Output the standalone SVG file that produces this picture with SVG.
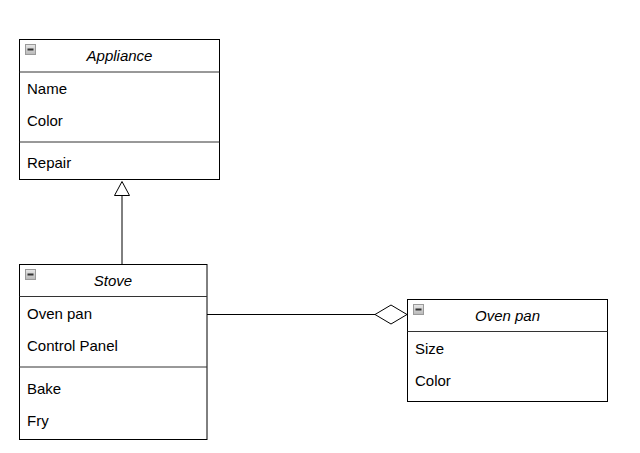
<svg xmlns="http://www.w3.org/2000/svg" width="640" height="453" viewBox="0 0 640 453">
  <style>
    .box { fill: #ffffff; stroke: #000000; stroke-width: 1; }
    .sep { stroke: #333333; stroke-width: 1; fill: none; }
    .title { font-family: "Liberation Sans", Arial, sans-serif; font-size: 15px; font-style: italic; fill: #000000; text-anchor: middle; }
    .row { font-family: "Liberation Sans", Arial, sans-serif; font-size: 15px; fill: #000000; }
    .edge { stroke: #000000; stroke-width: 1; fill: none; }
    .head { stroke: #000000; stroke-width: 1; fill: #ffffff; }
  </style>
  <defs>
    <linearGradient id="iconFill" x1="0" y1="0" x2="0" y2="1">
      <stop offset="0" stop-color="#e8e8e8"/>
      <stop offset="1" stop-color="#b8b8b8"/>
    </linearGradient>
    <g id="collapse">
      <rect x="0.5" y="0.5" width="10" height="10" fill="url(#iconFill)" stroke="#9a9a9a"/>
      <rect x="2.5" y="4.5" width="6" height="2" fill="#333333"/>
    </g>
  </defs>
  <rect width="640" height="453" fill="#ffffff"/>

  <g id="connectors">
    <!-- generalization: Stove -> Appliance -->
    <line class="edge" x1="122" y1="264.5" x2="122" y2="195"/>
    <polygon class="head" points="122,181.5 114.5,195.5 129.5,195.5"/>
    <!-- aggregation: Stove -> Oven pan -->
    <line class="edge" x1="207" y1="314.5" x2="375" y2="314.5"/>
    <polygon class="head" points="375,314.5 391,305 407,314.5 391,324"/>
  </g>

  <g id="appliance">
    <rect class="box" x="19.5" y="39.5" width="200" height="140"/>
    <line class="sep" x1="19.5" y1="72" x2="219.5" y2="72"/>
    <line class="sep" x1="19.5" y1="142" x2="219.5" y2="142"/>
    <use href="#collapse" x="25" y="44"/>
    <text class="title" x="119.5" y="61">Appliance</text>
    <text class="row" x="27" y="94">Name</text>
    <text class="row" x="27" y="126">Color</text>
    <text class="row" x="27" y="168">Repair</text>
  </g>

  <g id="stove">
    <rect class="box" x="19.5" y="264.5" width="187.5" height="175"/>
    <line class="sep" x1="19.5" y1="296.5" x2="207" y2="296.5"/>
    <line class="sep" x1="19.5" y1="367" x2="207" y2="367"/>
    <use href="#collapse" x="25" y="269"/>
    <text class="title" x="113" y="286">Stove</text>
    <text class="row" x="27" y="319">Oven pan</text>
    <text class="row" x="27" y="351">Control Panel</text>
    <text class="row" x="27" y="394">Bake</text>
    <text class="row" x="27" y="426">Fry</text>
  </g>

  <g id="ovenpan">
    <rect class="box" x="407.5" y="299.5" width="200" height="102"/>
    <line class="sep" x1="407.5" y1="331.5" x2="607.5" y2="331.5"/>
    <use href="#collapse" x="413" y="304"/>
    <text class="title" x="507.5" y="321">Oven pan</text>
    <text class="row" x="415" y="354">Size</text>
    <text class="row" x="415" y="386">Color</text>
  </g>
</svg>
